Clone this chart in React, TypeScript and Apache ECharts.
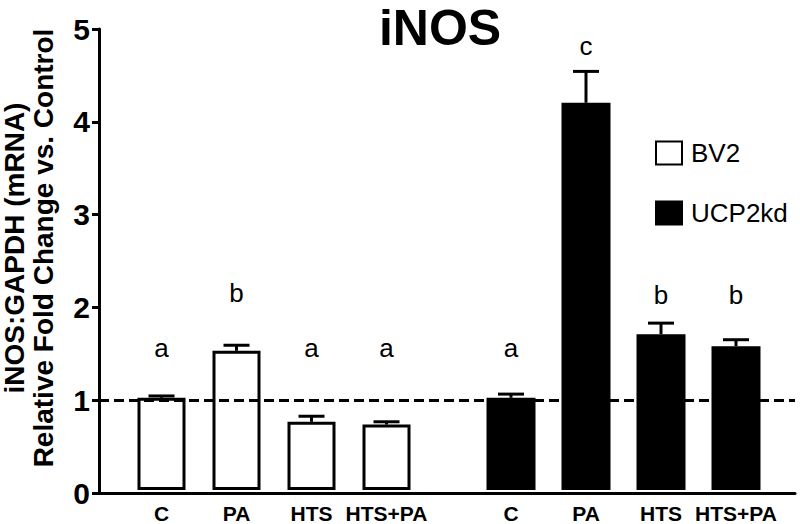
import React, { useEffect, useRef } from "react";
import * as echarts from "echarts";

const categories = ["C", "PA", "HTS", "HTS+PA"];
const bv2Values = [1.0, 1.51, 0.74, 0.71];
const bv2Errors = [0.02, 0.06, 0.06, 0.03];
const ucpValues = [1.0, 4.2, 1.69, 1.56];
const ucpErrors = [0.04, 0.34, 0.12, 0.07];
const bv2Letters = ["a", "b", "a", "a"];
const ucpLetters = ["a", "c", "b", "b"];
const bv2LetterY = [1.4, 2.0, 1.4, 1.4];
const ucpLetterY = [1.4, 4.67, 1.97, 1.97];
const yTicks = [0, 1, 2, 3, 4, 5];
const titleText = "iNOS";
const yTitle = "iNOS:GAPDH (mRNA)\nRelative Fold Change vs. Control";

const FONT = '"Liberation Sans", Arial, Helvetica, sans-serif';

function errSeries(name: string, idx: number, values: number[], errors: number[], letters: string[], letterY: number[]) {
  return {
    type: "custom",
    name: name + "_err",
    xAxisIndex: idx,
    yAxisIndex: idx,
    z: 5,
    silent: true,
    data: values.map((v, i) => [i, v, errors[i], letterY[i]]),
    renderItem: (params: any, api: any) => {
      const x = api.value(0);
      const v = api.value(1);
      const e = api.value(2);
      const top = api.coord([x, v]);
      const cap = api.coord([x, v + e]);
      const lbl = api.coord([x, api.value(3)]);
      return {
        type: "group",
        children: [
          { type: "line", shape: { x1: top[0], y1: top[1], x2: cap[0], y2: cap[1] }, style: { stroke: "#000", lineWidth: 3 } },
          { type: "line", shape: { x1: cap[0] - 13, y1: cap[1], x2: cap[0] + 13, y2: cap[1] }, style: { stroke: "#000", lineWidth: 3 } },
          {
            type: "text",
            x: lbl[0],
            y: lbl[1],
            style: { text: letters[params.dataIndex], fill: "#000", font: `26px ${FONT}`, textAlign: "center", textVerticalAlign: "bottom" },
          },
        ],
      };
    },
  };
}

export default function App() {
  const ref = useRef<HTMLDivElement>(null);
  useEffect(() => {
    document.body.style.margin = "0";
    const chart = echarts.init(ref.current!, null, { renderer: "svg" });
    const catAxis = (gi: number) => ({
      type: "category",
      gridIndex: gi,
      data: categories,
      axisLine: { show: false },
      axisTick: { show: false },
      axisLabel: { color: "#000", fontWeight: "bold", fontSize: 21, fontFamily: FONT, margin: 13, interval: 0 },
    });
    const hiddenY = (gi: number) => ({ type: "value", gridIndex: gi, min: 0, max: 5, interval: 1, show: false });
    chart.setOption({
      animation: false,
      backgroundColor: "#fff",
      textStyle: { fontFamily: FONT },
      graphic: [
        {
          type: "text",
          x: 440,
          y: 0,
          style: { text: titleText, fill: "#000", font: `bold 50px ${FONT}`, lineHeight: 56, textAlign: "center", textVerticalAlign: "top" },
        },
        {
          type: "text",
          x: 29,
          y: 248,
          rotation: Math.PI / 2,
          style: { text: yTitle, fill: "#000", font: `bold 28px ${FONT}`, lineHeight: 29, textAlign: "center", textVerticalAlign: "middle" },
        },
      ],
      legend: {
        data: ["BV2", "UCP2kd"],
        orient: "vertical",
        left: 650,
        top: 135,
        itemWidth: 26,
        itemHeight: 23,
        itemGap: 34,
        icon: "rect",
        textStyle: { fontSize: 26, color: "#000", fontFamily: FONT, padding: [0, 0, 0, 4] },
      },
      grid: [
        { left: 99, right: 5, top: 29, bottom: 31 },
        { left: 124, width: 300, top: 29, bottom: 31 },
        { left: 473.5, width: 300, top: 29, bottom: 31 },
      ],
      xAxis: [
        { type: "category", gridIndex: 0, data: [""], axisLine: { lineStyle: { color: "#000", width: 3 } }, axisTick: { show: false }, axisLabel: { show: false } },
        catAxis(1),
        catAxis(2),
      ],
      yAxis: [
        {
          type: "value",
          gridIndex: 0,
          min: yTicks[0],
          max: yTicks[yTicks.length - 1],
          interval: 1,
          splitLine: { show: false },
          axisLine: { show: true, lineStyle: { color: "#000", width: 3 } },
          axisTick: { show: true, length: 7, lineStyle: { color: "#000", width: 3 } },
          axisLabel: { color: "#000", fontWeight: "bold", fontSize: 30, fontFamily: FONT, margin: 9 },
        },
        hiddenY(1),
        hiddenY(2),
      ],
      series: [
        {
          type: "line",
          xAxisIndex: 0,
          yAxisIndex: 0,
          data: [],
          z: 1,
          silent: true,
          markLine: {
            symbol: "none",
            silent: true,
            label: { show: false },
            lineStyle: { color: "#000", width: 3, type: [10, 5] },
            data: [{ yAxis: 1 }],
          },
        },
        {
          type: "bar",
          name: "BV2",
          xAxisIndex: 1,
          yAxisIndex: 1,
          z: 3,
          barWidth: 48,
          data: bv2Values,
          itemStyle: { color: "#fff", borderColor: "#000", borderWidth: 3 },
        },
        {
          type: "bar",
          name: "UCP2kd",
          xAxisIndex: 2,
          yAxisIndex: 2,
          z: 3,
          barWidth: 49,
          data: ucpValues,
          itemStyle: { color: "#000", borderColor: "#000", borderWidth: 3 },
        },
        errSeries("BV2", 1, bv2Values, bv2Errors, bv2Letters, bv2LetterY),
        errSeries("UCP2kd", 2, ucpValues, ucpErrors, ucpLetters, ucpLetterY),
      ],
    });
    return () => chart.dispose();
  }, []);
  return <div ref={ref} style={{ width: 800, height: 524 }} />;
}
